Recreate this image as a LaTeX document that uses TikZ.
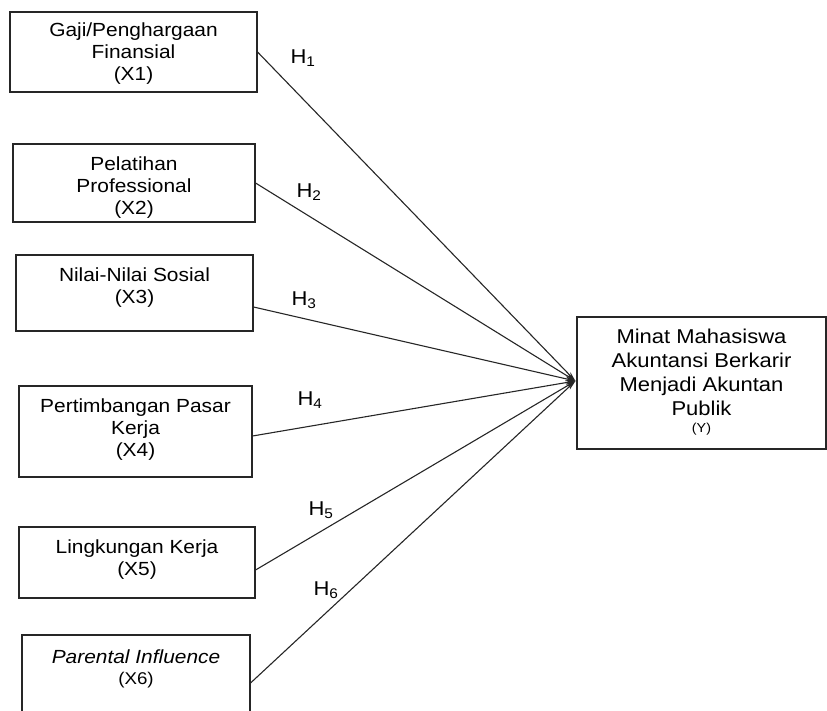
\documentclass[tikz,border=0pt]{standalone}
\usepackage{fontspec}
\setmainfont{Liberation Sans}[FakeStretch=1.1]
\usetikzlibrary{arrows.meta, positioning}

\tikzset{
  varbox/.style={draw=black!85, line width=1.1pt, inner sep=0pt},
  vartext/.style={align=center, inner sep=0pt, font=\fontsize{19}{22}\selectfont},
  hyplabel/.style={inner sep=0pt, font=\fontsize{20}{22}\selectfont},
  patharrow/.style={draw=black!85, line width=1.1pt, -{Stealth[length=10pt, width=5pt]}}
}

\begin{document}
\begin{tikzpicture}[x=1pt, y=-1pt]
  \useasboundingbox (0,0) rectangle (827,711);

  % independent variables
  \node[varbox, minimum width=247pt, minimum height=80pt] (x1) at (133.5,52) {};
  \node[varbox, minimum width=242pt, minimum height=78pt] (x2) at (134,183) {};
  \node[varbox, minimum width=237pt, minimum height=76pt] (x3) at (134.5,293) {};
  \node[varbox, minimum width=233pt, minimum height=91pt] (x4) at (135.5,431.5) {};
  \node[varbox, minimum width=236pt, minimum height=71pt] (x5) at (137,562.5) {};
  \node[varbox, minimum width=228pt, minimum height=110pt] (x6) at (136,690) {};

  \node[vartext, below=11pt of x1.north] (t1) {Gaji/Penghargaan\\Finansial\\(X1)};
  \node[vartext, below=13pt of x2.north] (t2) {Pelatihan\\Professional\\(X2)};
  \node[vartext, below=13pt of x3.north] (t3) {Nilai-Nilai Sosial\\(X3)};
  \node[vartext, below=13pt of x4.north] (t4) {Pertimbangan Pasar\\Kerja\\(X4)};
  \node[vartext, below=13pt of x5.north] (t5) {Lingkungan Kerja\\(X5)};
  \node[vartext, below=15pt of x6.north] (t6) {\textit{Parental Influence}\\[-1pt]{\fontsize{17}{20}\selectfont (X6)}};

  % dependent variable
  \node[varbox, minimum width=249pt, minimum height=132pt] (y) at (701.5,383) {};
  \node[vartext, font=\fontsize{20}{24}\selectfont, below=12pt of y.north] (ty)
    {Minat Mahasiswa\\Akuntansi Berkarir\\Menjadi Akuntan\\Publik\\[-7pt]{\fontsize{13}{14}\selectfont (Y)}};

  \coordinate (hub) at ([xshift=-1pt, yshift=2pt]y.west);

  % hypothesis paths
  \draw[patharrow] (x1.east) -- (hub);
  \draw[patharrow] (x2.east) -- (hub);
  \draw[patharrow] ([yshift=-14pt]x3.east) -- (hub);
  \draw[patharrow] ([yshift=-4.5pt]x4.east) -- (hub);
  \draw[patharrow] ([yshift=-7.5pt]x5.east) -- (hub);
  \draw[patharrow] ([yshift=7pt]x6.east) -- (hub);

  \node[hyplabel] (h1) at (303,58) {H\textsubscript{1}};
  \node[hyplabel] (h2) at (309,192) {H\textsubscript{2}};
  \node[hyplabel] (h3) at (304,300) {H\textsubscript{3}};
  \node[hyplabel] (h4) at (310,400) {H\textsubscript{4}};
  \node[hyplabel] (h5) at (321,510) {H\textsubscript{5}};
  \node[hyplabel] (h6) at (326,590) {H\textsubscript{6}};
\end{tikzpicture}
\end{document}
